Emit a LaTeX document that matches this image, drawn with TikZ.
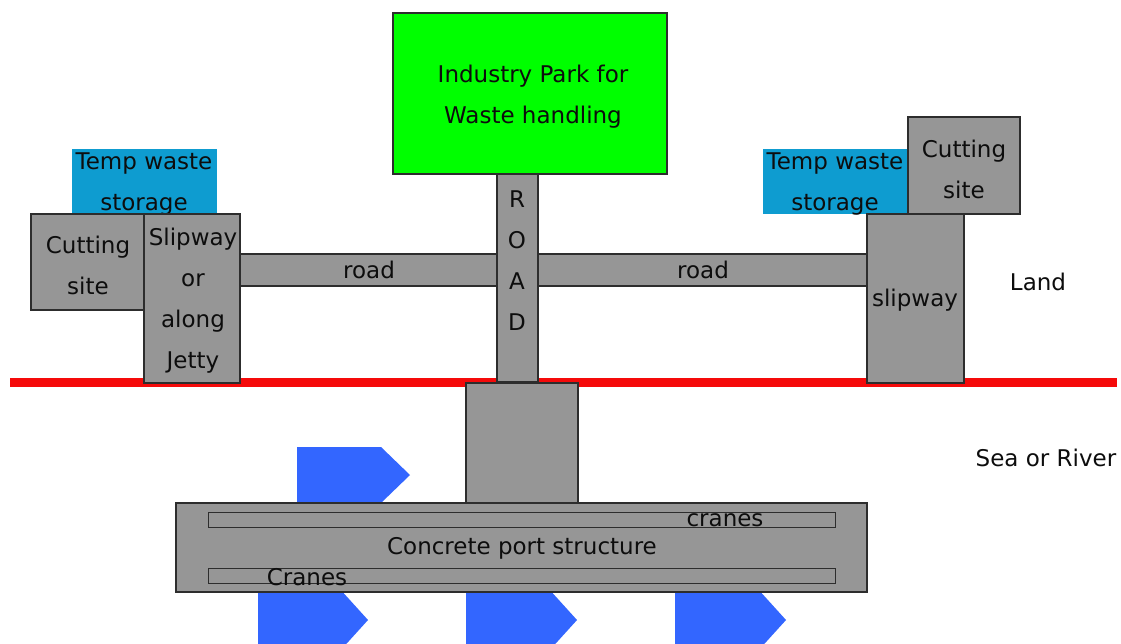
\documentclass[tikz,border=0pt]{standalone}
\usepackage{fontspec}
\setmainfont{DejaVu Sans}
\definecolor{slab}{RGB}{150,150,150}
\definecolor{edge}{RGB}{45,45,45}
\definecolor{parkgreen}{RGB}{0,255,0}
\definecolor{storeblue}{RGB}{14,156,208}
\definecolor{boatblue}{RGB}{51,102,255}
\definecolor{shore}{RGB}{245,10,10}
\begin{document}
\begin{tikzpicture}[x=1pt,y=-1pt,
  every node/.style={font=\fontsize{23}{41}\selectfont, text=black!95,
    inner sep=0pt, outer sep=0pt, align=center},
  blk/.style={draw=edge, line width=1.2pt, fill=slab, anchor=north west},
  park/.style={draw=edge, line width=1.2pt, fill=parkgreen, anchor=north west},
  store/.style={fill=storeblue, anchor=north west},
  rail/.style={draw=edge, line width=1pt, fill=slab, anchor=north west},
  boat/.style={fill=boatblue}
]
\clip (0,0) rectangle (1121,643);
\fill[white] (0,0) rectangle (1121,643);

% shoreline
\draw[shore, line width=9pt] (10,382.5) -- (1117,382.5);

% vessels moored at the port
\fill[boat] (297,447) -- (381,447) -- (410,475) -- (381,503) -- (297,503) -- cycle;
\fill[boat] (258,588) -- (339,588) -- (368,620) -- (339,652) -- (258,652) -- cycle;
\fill[boat] (466,588) -- (548,588) -- (577,620) -- (548,652) -- (466,652) -- cycle;
\fill[boat] (675,588) -- (757,588) -- (786,620) -- (757,652) -- (675,652) -- cycle;

% industry park and main road
\node[park, minimum width=274pt, minimum height=161pt] (park) at (393,13) {};
\node (parktxt) at (533,97) {Industry Park for\\Waste handling};
\node[blk, minimum width=257pt, minimum height=32pt] (roadL) at (240,254) {};
\node[blk, minimum width=329pt, minimum height=32pt] (roadR) at (538,254) {};
\node[blk, minimum width=41pt, minimum height=208pt] (mainroad) at (497,174) {};
\node (roadtxt) at (517,261) {R\\O\\A\\D};
\node at (369,270) (roadLtxt) {road};
\node at (703,270) (roadRtxt) {road};

% jetty head and pier
\node[blk, minimum width=112pt, minimum height=120pt] (jetty) at (466,383) {};
\node[blk, minimum width=691pt, minimum height=89pt] (pier) at (176,503) {};
\node[rail, minimum width=627pt, minimum height=15pt] (railtop) at (208,512) {};
\node[rail, minimum width=627pt, minimum height=15pt] (railbot) at (208,568) {};
\node (piertxt) at (522,548) {Concrete port structure};
\node (cranesA) at (725,520) {cranes};
\node (cranesB) at (307,577) {Cranes};

% west side
\node[store, minimum width=145pt, minimum height=65pt] (storeW) at (72,149) {};
\node (storeWtxt) at (144,184) {Temp waste\\storage};
\node[blk, minimum width=113pt, minimum height=96pt] (cutW) at (31,214) {};
\node (cutWtxt) at (88,265) {Cutting\\site};
\node[blk, minimum width=96pt, minimum height=169pt] (slipW) at (144,214) {};
\node (slipWtxt) at (193,301) {Slipway\\or\\along\\Jetty};

% east side
\node[store, minimum width=145pt, minimum height=65pt] (storeE) at (763,149) {};
\node (storeEtxt) at (835,184) {Temp waste\\storage};
\node[blk, minimum width=112pt, minimum height=97pt] (cutE) at (908,117) {};
\node (cutEtxt) at (964,169) {Cutting\\site};
\node[blk, minimum width=97pt, minimum height=169pt] (slipE) at (867,214) {};
\node (slipEtxt) at (915,300) {slipway};

% zones
\node (land) at (1038,282) {Land};
\node (sea) at (1046,458) {Sea or River};
\end{tikzpicture}
\end{document}
